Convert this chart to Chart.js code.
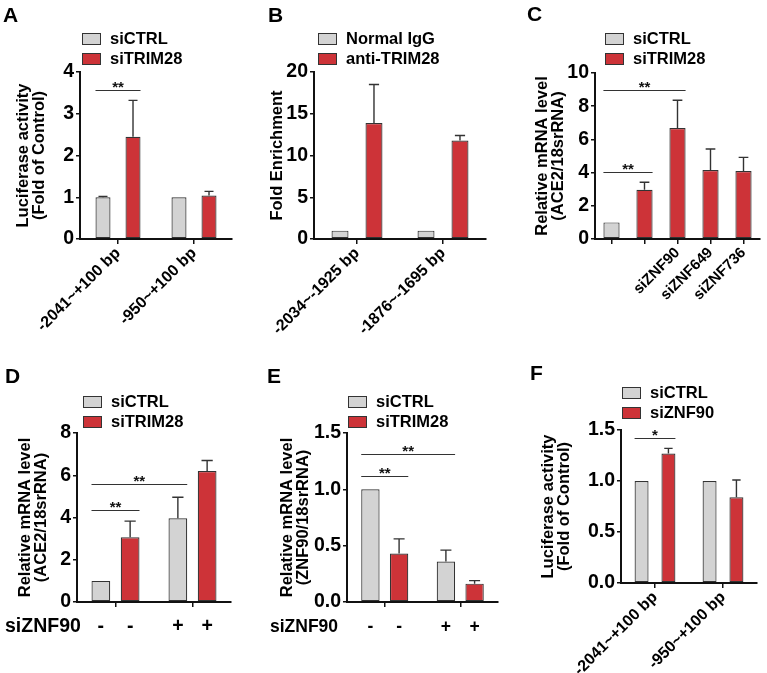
<!DOCTYPE html>
<html>
<head>
<meta charset="utf-8">
<script src="https://cdn.jsdelivr.net/npm/chart.js@4.4.0/dist/chart.umd.min.js"></script>
<style>
    html, body { margin: 0; padding: 0; background: #fff; }
    body { width: 767px; height: 673px; position: relative; overflow: hidden; }
    canvas { position: absolute; }
</style>
</head>
<body>
<canvas id="panelA" width="255" height="335" style="left:0;top:0"></canvas>
<canvas id="panelB" width="255" height="335" style="left:255px;top:0"></canvas>
<canvas id="panelC" width="257" height="335" style="left:510px;top:0"></canvas>
<canvas id="panelD" width="255" height="338" style="left:0;top:335px"></canvas>
<canvas id="panelE" width="255" height="338" style="left:255px;top:335px"></canvas>
<canvas id="panelF" width="257" height="338" style="left:510px;top:335px"></canvas>
<script>
// ---- data ----
// A: luciferase, siCTRL vs siTRIM28
const aSites = ['-2041~+100 bp', '-950~+100 bp'];
const aCtrl = [1.0, 1.0];
const aCtrlErr = [1.02, null];
const aTrim = [2.45, 1.04];
const aTrimErr = [3.32, 1.14];
const aTicks = [0, 1, 2, 3, 4];
const aSig = [{ from: [0, 0], to: [1, 0], y: 3.56, mark: '**' }];

// B: ChIP, Normal IgG vs anti-TRIM28
const bSites = ['-2034~-1925 bp', '-1876~-1695 bp'];
const bIgg = [1.0, 1.0];
const bAnti = [13.9, 11.8];
const bAntiErr = [18.5, 12.4];
const bTicks = [0, 5, 10, 15, 20];

// C: ACE2 mRNA, siCTRL + four knockdowns
const cLabels = ['', '', 'siZNF90', 'siZNF649', 'siZNF736'];
const cValues = [1.0, 2.96, 6.68, 4.16, 4.1];
const cErr = [null, 3.42, 8.36, 5.42, 4.92];
const cTicks = [0, 2, 4, 6, 8, 10];
const cSig = [
    { from: [0, 0], to: [0, 2], y: 9.0, mark: '**' },
    { from: [0, 0], to: [0, 1], y: 4.06, mark: '**' }
];

// D: ACE2 mRNA with / without siZNF90
const dGroups = ['siZNF90 -', 'siZNF90 +'];
const dSigns = ['-', '+'];
const dCtrl = [1.0, 3.96];
const dCtrlErr = [null, 4.96];
const dTrim = [3.06, 6.2];
const dTrimErr = [3.83, 6.7];
const dTicks = [0, 2, 4, 6, 8];
const dSig = [
    { from: [0, 0], to: [0, 1], y: 5.58, mark: '**' },
    { from: [0, 0], to: [1, 0], y: 4.36, mark: '**' }
];

// E: ZNF90 mRNA with / without siZNF90
const eCtrl = [1.0, 0.36];
const eCtrlErr = [null, 0.46];
const eTrim = [0.43, 0.163];
const eTrimErr = [0.56, 0.19];
const eTicks = [0, 0.5, 1.0, 1.5];
const eSig = [
    { from: [0, 0], to: [0, 1], y: 1.31, mark: '**' },
    { from: [0, 0], to: [1, 0], y: 1.12, mark: '**' }
];

// F: luciferase, siCTRL vs siZNF90
const fCtrl = [1.0, 1.0];
const fZnf = [1.27, 0.84];
const fZnfErr = [1.32, 1.01];
const fTicks = [0, 0.5, 1.0, 1.5];
const fSig = [{ from: [0, 0], to: [1, 0], y: 1.42, mark: '*' }];

// ---- styles ----
const FONT = '"Liberation Sans", Arial, Helvetica, sans-serif';
const GRAY = '#d3d3d3';
const RED = '#cd3338';
const EDGE = '#333333';
const INK = '#111111';

Chart.defaults.font.family = FONT;
Chart.defaults.color = '#000';

// error bars: line from bar top to the upper value, with a cap
const errorBars = {
    id: 'errorBars',
    afterDatasetsDraw(chart) {
        const ctx = chart.ctx;
        const yScale = chart.scales.y;
        chart.data.datasets.forEach((ds, i) => {
            if (!ds.errHi) return;
            chart.getDatasetMeta(i).data.forEach((bar, j) => {
                const hi = ds.errHi[j];
                if (hi == null) return;
                const yTop = yScale.getPixelForValue(hi);
                const half = bar.width * 0.3;
                ctx.save();
                ctx.strokeStyle = EDGE;
                ctx.lineWidth = 1.4;
                ctx.beginPath();
                ctx.moveTo(bar.x, bar.y);
                ctx.lineTo(bar.x, yTop);
                ctx.moveTo(bar.x - half, yTop);
                ctx.lineTo(bar.x + half, yTop);
                ctx.stroke();
                ctx.restore();
            });
        });
    }
};

// significance brackets (flat line + stars)
const sigBars = {
    id: 'sigBars',
    afterDatasetsDraw(chart, args, opts) {
        if (!opts.items) return;
        const ctx = chart.ctx;
        const yScale = chart.scales.y;
        opts.items.forEach(it => {
            const a = chart.getDatasetMeta(it.from[0]).data[it.from[1]];
            const b = chart.getDatasetMeta(it.to[0]).data[it.to[1]];
            const x1 = a.x - a.width / 2;
            const x2 = b.x + b.width / 2;
            const py = Math.round(yScale.getPixelForValue(it.y)) + 0.5;
            ctx.save();
            ctx.strokeStyle = '#333';
            ctx.lineWidth = 1.2;
            ctx.beginPath();
            ctx.moveTo(x1, py);
            ctx.lineTo(x2, py);
            ctx.stroke();
            ctx.fillStyle = INK;
            ctx.font = 'bold 15px ' + FONT;
            ctx.textAlign = 'center';
            ctx.textBaseline = 'alphabetic';
            ctx.fillText(it.mark, (x1 + x2) / 2, py + 1);
            ctx.restore();
        });
    }
};

// legend with boxed swatches
const boxLegend = {
    id: 'boxLegend',
    afterDraw(chart, args, opts) {
        if (!opts.labels) return;
        const ctx = chart.ctx;
        opts.labels.forEach((txt, i) => {
            const y = opts.y + i * 20;
            ctx.save();
            ctx.fillStyle = opts.colors[i];
            ctx.fillRect(opts.x, y, 19, 12);
            ctx.strokeStyle = EDGE;
            ctx.lineWidth = 1;
            ctx.strokeRect(opts.x + 0.5, y + 0.5, 18, 11);
            ctx.fillStyle = '#000';
            ctx.font = 'bold 16.5px ' + FONT;
            ctx.textAlign = 'left';
            ctx.textBaseline = 'middle';
            ctx.fillText(txt, opts.x + 28, y + 6.5);
            ctx.restore();
        });
    }
};

// panel letter
const panelLetter = {
    id: 'panelLetter',
    afterDraw(chart, args, opts) {
        if (!opts.text) return;
        const ctx = chart.ctx;
        ctx.save();
        ctx.fillStyle = '#000';
        ctx.font = 'bold 21px ' + FONT;
        ctx.textAlign = 'left';
        ctx.textBaseline = 'middle';
        ctx.fillText(opts.text, opts.x, opts.y);
        ctx.restore();
    }
};

// "-" / "+" row under the bars (panels D and E)
const signRow = {
    id: 'signRow',
    afterDraw(chart, args, opts) {
        if (!opts.signs) return;
        const ctx = chart.ctx;
        ctx.save();
        ctx.fillStyle = '#000';
        ctx.font = 'bold ' + opts.size + 'px ' + FONT;
        ctx.textBaseline = 'middle';
        ctx.textAlign = 'left';
        ctx.fillText(opts.title, opts.titleX, opts.y);
        ctx.textAlign = 'center';
        chart.data.datasets.forEach((ds, i) => {
            chart.getDatasetMeta(i).data.forEach((bar, j) => {
                ctx.fillText(opts.signs[j], bar.x, opts.y);
            });
        });
        ctx.restore();
    }
};

Chart.register(errorBars, sigBars, boxLegend, panelLetter, signRow);

function makePanel(id, cfg) {
    const L = cfg.box;
    return new Chart(document.getElementById(id), {
        type: 'bar',
        data: { labels: cfg.labels, datasets: cfg.datasets },
        options: {
            responsive: false,
            animation: false,
            layout: { padding: { left: L.pl, top: L.pt, right: L.pr, bottom: 0 } },
            datasets: {
                bar: {
                    barPercentage: cfg.barPct,
                    categoryPercentage: cfg.catPct,
                    borderWidth: 1.2,
                    borderColor: EDGE,
                    borderSkipped: false
                }
            },
            scales: {
                x: {
                    border: { display: true, color: INK, width: 2 },
                    grid: { display: true, offset: false, drawOnChartArea: false, drawTicks: true, tickLength: 5, color: INK, lineWidth: 1.5 },
                    ticks: {
                        display: cfg.xLabels !== false,
                        font: { size: cfg.xFont || 16, weight: 'bold' },
                        color: '#000',
                        minRotation: 45,
                        maxRotation: 45,
                        autoSkip: false,
                        padding: 0
                    },
                    afterFit: s => { s.height = L.xh; }
                },
                y: {
                    min: cfg.ticks[0],
                    max: cfg.ticks[cfg.ticks.length - 1],
                    afterBuildTicks: s => { s.ticks = cfg.ticks.map(v => ({ value: v })); },
                    border: { display: true, color: INK, width: 2 },
                    grid: { display: true, drawOnChartArea: false, drawTicks: true, tickLength: 4, color: INK, lineWidth: 1.5 },
                    ticks: {
                        font: { size: 19.5, weight: 'bold' },
                        color: '#000',
                        padding: 2,
                        autoSkip: false,
                        callback: v => Number(v).toFixed(cfg.decimals || 0)
                    },
                    title: {
                        display: true,
                        text: cfg.yTitle,
                        font: { size: 16.5, weight: 'bold', lineHeight: 1 },
                        color: '#000',
                        padding: 0
                    },
                    afterFit: s => { s.width = L.yw; }
                }
            },
            plugins: {
                legend: { display: false },
                tooltip: { enabled: false },
                boxLegend: cfg.legend,
                panelLetter: cfg.letter,
                sigBars: { items: cfg.sig || null },
                signRow: cfg.signRow || {}
            }
        }
    });
}

// A
makePanel('panelA', {
    labels: aSites,
    datasets: [
        { label: 'siCTRL', data: aCtrl, errHi: aCtrlErr, backgroundColor: GRAY },
        { label: 'siTRIM28', data: aTrim, errHi: aTrimErr, backgroundColor: RED }
    ],
    box: { pl: 14.75, pt: 72, pr: 23, yw: 65.25, xh: 96 },
    barPct: 0.5, catPct: 0.79,
    ticks: aTicks,
    yTitle: ['Luciferase activity', '(Fold of Control)'],
    legend: { labels: ['siCTRL', 'siTRIM28'], colors: [GRAY, RED], x: 82, y: 33 },
    letter: { text: 'A', x: 3, y: 16 },
    sig: aSig
});

// B
makePanel('panelB', {
    labels: bSites,
    datasets: [
        { label: 'Normal IgG', data: bIgg, backgroundColor: GRAY },
        { label: 'anti-TRIM28', data: bAnti, errHi: bAntiErr, backgroundColor: RED }
    ],
    box: { pl: 13.75, pt: 72, pr: 24, yw: 45.25, xh: 96 },
    barPct: 0.5, catPct: 0.79,
    ticks: bTicks,
    yTitle: 'Fold Enrichment',
    legend: { labels: ['Normal IgG', 'anti-TRIM28'], colors: [GRAY, RED], x: 63, y: 33 },
    letter: { text: 'B', x: 13, y: 16 }
});

// C
makePanel('panelC', {
    labels: cLabels,
    datasets: [
        { label: 'ACE2', data: cValues, errHi: cErr, backgroundColor: [GRAY, RED, RED, RED, RED] }
    ],
    box: { pl: 23.75, pt: 73, pr: 7, yw: 61.25, xh: 96 },
    barPct: 0.49, catPct: 1,
    xFont: 15,
    ticks: cTicks,
    yTitle: ['Relative mRNA level', '(ACE2/18srRNA)'],
    legend: { labels: ['siCTRL', 'siTRIM28'], colors: [GRAY, RED], x: 95, y: 33 },
    letter: { text: 'C', x: 17, y: 15 },
    sig: cSig
});

// D
makePanel('panelD', {
    labels: dGroups,
    datasets: [
        { label: 'siCTRL', data: dCtrl, errHi: dCtrlErr, backgroundColor: GRAY },
        { label: 'siTRIM28', data: dTrim, errHi: dTrimErr, backgroundColor: RED }
    ],
    box: { pl: 16.75, pt: 98, pr: 24, yw: 60.25, xh: 71 },
    barPct: 0.64, catPct: 0.76,
    xLabels: false,
    ticks: dTicks,
    yTitle: ['Relative mRNA level', '(ACE2/18srRNA)'],
    legend: { labels: ['siCTRL', 'siTRIM28'], colors: [GRAY, RED], x: 83, y: 61 },
    letter: { text: 'D', x: 5, y: 42 },
    sig: dSig,
    signRow: { signs: dSigns, title: 'siZNF90', titleX: 5, y: 292, size: 19.5 }
});

// E
makePanel('panelE', {
    labels: dGroups,
    datasets: [
        { label: 'siCTRL', data: eCtrl, errHi: eCtrlErr, backgroundColor: GRAY },
        { label: 'siTRIM28', data: eTrim, errHi: eTrimErr, backgroundColor: RED }
    ],
    box: { pl: 23.75, pt: 98, pr: 12, yw: 68.25, xh: 71 },
    barPct: 0.64, catPct: 0.76,
    xLabels: false,
    decimals: 1,
    ticks: eTicks,
    yTitle: ['Relative mRNA level', '(ZNF90/18srRNA)'],
    legend: { labels: ['siCTRL', 'siTRIM28'], colors: [GRAY, RED], x: 93, y: 61 },
    letter: { text: 'E', x: 12, y: 42 },
    sig: eSig,
    signRow: { signs: dSigns, title: 'siZNF90', titleX: 15, y: 292, size: 17.5 }
});

// F
makePanel('panelF', {
    labels: aSites,
    datasets: [
        { label: 'siCTRL', data: fCtrl, backgroundColor: GRAY },
        { label: 'siZNF90', data: fZnf, errHi: fZnfErr, backgroundColor: RED }
    ],
    box: { pl: 29.75, pt: 95, pr: 10, yw: 81.25, xh: 90 },
    barPct: 0.52, catPct: 0.79,
    decimals: 1,
    ticks: fTicks,
    yTitle: ['Luciferase activity', '(Fold of Control)'],
    legend: { labels: ['siCTRL', 'siZNF90'], colors: [GRAY, RED], x: 112, y: 52 },
    letter: { text: 'F', x: 20, y: 39 },
    sig: fSig
});
</script>
</body>
</html>
